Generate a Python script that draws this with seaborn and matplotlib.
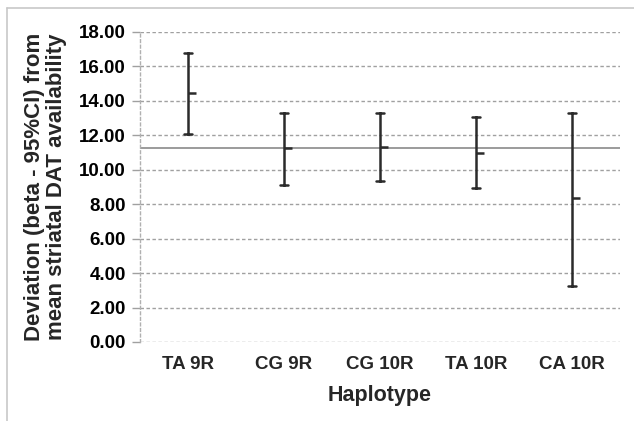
import numpy as np
import pandas as pd
import matplotlib
matplotlib.use("Agg")
import matplotlib.pyplot as plt
from matplotlib.lines import Line2D
import seaborn as sns

haplotypes = ["TA 9R", "CG 9R", "CG 10R", "TA 10R", "CA 10R"]
beta = [14.44, 11.28, 11.34, 11.00, 8.34]
ci_low = [12.10, 9.12, 9.35, 8.92, 3.27]
ci_high = [16.76, 13.32, 13.32, 13.05, 13.32]
reference_mean = 11.25
y_ticks = [0, 2, 4, 6, 8, 10, 12, 14, 16, 18]

rows = []
for h, lo, m, hi in zip(haplotypes, ci_low, beta, ci_high):
    for v in (lo, m, hi):
        rows.append({"Haplotype": h, "value": v})
df = pd.DataFrame(rows)

sns.set_theme(style="white")
plt.rcParams["font.family"] = ["Liberation Sans", "DejaVu Sans"]

fig = plt.figure(figsize=(6.34, 4.21), dpi=100)
ax = fig.add_axes([140 / 634, 79 / 421, 480 / 634, 310 / 421])

sns.pointplot(
    data=df, x="Haplotype", y="value", order=haplotypes,
    estimator="median", errorbar=("pi", 100),
    linestyle="none", marker=1, markersize=6, markeredgewidth=1.8,
    color="#2b2b2b", capsize=0.085, err_kws={"linewidth": 1.8},
    ax=ax,
)

ax.set_xlim(-0.5, len(haplotypes) - 0.5)
ax.set_ylim(0, 18)
ax.set_yticks(y_ticks)
ax.set_yticklabels([f"{t:.2f}" for t in y_ticks], fontsize=13.5, fontweight="bold")
ax.set_xticks(range(len(haplotypes)))
ax.set_xticklabels(haplotypes, fontsize=13.5, fontweight="bold")

ax.yaxis.grid(True, color="#a0a0a0", linestyle=(0, (2.5, 1.8)), linewidth=1)
ax.xaxis.grid(False)
ax.set_axisbelow(True)
for s in ["top", "right", "bottom"]:
    ax.spines[s].set_visible(False)
ax.spines["left"].set_color("#b0b0b0")
ax.spines["left"].set_linestyle((0, (2, 2)))
ax.spines["left"].set_linewidth(1)

ax.tick_params(axis="y", which="major", left=True, length=6, width=1,
               color="#a0a0a0", pad=4, colors="black")
ax.tick_params(axis="x", which="major", bottom=False, length=0, pad=10)

ax.axhline(reference_mean, color="#8a8a8a", linewidth=1.2, zorder=1)

ax.set_xlabel("Haplotype", fontsize=15.5, fontweight="bold", labelpad=9)
ax.set_ylabel("Deviation (beta - 95%CI) from\nmean striatal DAT availability",
              fontsize=16, fontweight="bold", labelpad=9, linespacing=1.05)

# light outer frame
fig.add_artist(Line2D([7 / 634, 7 / 634], [0, 1 - 8 / 421], transform=fig.transFigure,
                      color="#c8c8c8", linewidth=1.2))
fig.add_artist(Line2D([7 / 634, 1], [1 - 8 / 421, 1 - 8 / 421], transform=fig.transFigure,
                      color="#c8c8c8", linewidth=1.2))

fig.savefig("out.png", dpi=100)
